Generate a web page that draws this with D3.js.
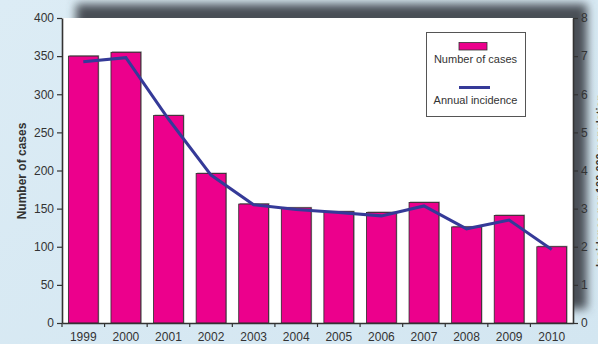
<!DOCTYPE html>
<html>
<head>
<meta charset="utf-8">
<script src="https://cdn.jsdelivr.net/npm/d3@7"></script>
<style>
  html, body { margin: 0; padding: 0; background: #d8e9f3; overflow: hidden; }
  svg { display: block; font-family: "Liberation Sans", Arial, sans-serif; }
</style>
</head>
<body>
<svg id="chart" width="598" height="344"></svg>
<script>
// Cases per year and annual incidence (per 100 000)
const years = ["1999","2000","2001","2002","2003","2004","2005","2006","2007","2008","2009","2010"];
const cases = [350, 355, 272, 196, 156, 151, 146, 145, 158, 126, 141, 100];
const incidence = [6.85, 6.96, 5.35, 3.88, 3.10, 2.98, 2.90, 2.81, 3.07, 2.47, 2.70, 1.93];
const casesTicks = [0, 50, 100, 150, 200, 250, 300, 350, 400];
const incidenceTicks = [0, 1, 2, 3, 4, 5, 6, 7, 8];

const svg = d3.select("#chart");
const W = 598, H = 344;
const plotL = 62, plotR = 573, plotT = 18, plotB = 323;

const defs = svg.append("defs");
const bg = defs.append("linearGradient").attr("id", "bg").attr("x1", 0).attr("y1", 0).attr("x2", 1).attr("y2", 1);
bg.append("stop").attr("offset", "0%").attr("stop-color", "#dcecf5");
bg.append("stop").attr("offset", "100%").attr("stop-color", "#d3e6f1");
defs.append("filter").attr("id", "blur").attr("x", "-20%").attr("y", "-20%").attr("width", "140%").attr("height", "140%")
  .append("feGaussianBlur").attr("stdDeviation", 5);

svg.append("rect").attr("width", W).attr("height", H).attr("fill", "url(#bg)");

// Drop shadow behind the plotting area
svg.append("rect")
  .attr("x", plotL + 14).attr("y", plotT - 14)
  .attr("width", plotR - plotL).attr("height", plotB - plotT)
  .attr("fill", "#4a4f57").attr("filter", "url(#blur)");
svg.append("rect")
  .attr("x", plotL).attr("y", plotT)
  .attr("width", plotR - plotL).attr("height", plotB - plotT)
  .attr("fill", "#ffffff");

const x = d3.scaleBand().domain(years).range([plotL, plotR]).paddingInner(0.3).paddingOuter(0.15);
const yL = d3.scaleLinear().domain([0, 400]).range([plotB, plotT]);
const yR = d3.scaleLinear().domain([0, 8]).range([plotB, plotT]);

// Bars
svg.append("g").selectAll("rect")
  .data(years).join("rect")
  .attr("x", d => x(d) + 1).attr("y", (d, i) => yL(cases[i]) - 1)
  .attr("width", x.bandwidth()).attr("height", (d, i) => plotB - yL(cases[i]) + 1)
  .attr("fill", "#9a9a9a");
svg.append("g").selectAll("rect")
  .data(years).join("rect")
  .attr("x", d => x(d)).attr("y", (d, i) => yL(cases[i]))
  .attr("width", x.bandwidth()).attr("height", (d, i) => plotB - yL(cases[i]))
  .attr("fill", "#ec008c").attr("stroke", "#2a2a2a").attr("stroke-width", 0.8);

// Incidence line
const line = d3.line()
  .x((d, i) => x(years[i]) + x.bandwidth() / 2)
  .y(d => yR(d));
svg.append("path").datum(incidence)
  .attr("d", line).attr("fill", "none")
  .attr("stroke", "#353a98").attr("stroke-width", 3).attr("stroke-linejoin", "miter");

// Axes
const axisColor = "#333";
const textColor = "#333";

const gL = svg.append("g").attr("transform", `translate(${plotL},0)`)
  .call(d3.axisLeft(yL).tickValues(casesTicks).tickSize(5).tickPadding(3).tickSizeOuter(0));
const gR = svg.append("g").attr("transform", `translate(${plotR},0)`)
  .call(d3.axisRight(yR).tickValues(incidenceTicks).tickSize(5).tickPadding(3).tickSizeOuter(0));
const gB = svg.append("g").attr("transform", `translate(0,${plotB})`)
  .call(d3.axisBottom(x).tickSize(0).tickPadding(9).tickSizeOuter(0));

// Category boundary ticks on the x axis
const bounds = d3.range(years.length).map(k => plotL + k * x.step());
svg.append("g").selectAll("line")
  .data(bounds).join("line")
  .attr("x1", d => d).attr("x2", d => d)
  .attr("y1", plotB).attr("y2", plotB + 4)
  .attr("stroke", axisColor).attr("stroke-width", 1.2);

[gL, gR, gB].forEach(g => {
  g.selectAll(".domain").attr("stroke", axisColor).attr("stroke-width", 1.6);
  g.selectAll(".tick line").attr("stroke", axisColor).attr("stroke-width", 1.2);
  g.selectAll(".tick text").attr("fill", textColor).attr("font-size", 12)
    .attr("font-family", "'Liberation Sans', Arial, sans-serif");
});

// Axis titles
svg.append("text")
  .attr("transform", `translate(26,171) rotate(-90)`)
  .attr("text-anchor", "middle").attr("font-size", 12).attr("font-weight", "bold")
  .attr("fill", "#333").text("Number of cases");
svg.append("text")
  .attr("transform", `translate(604,${(plotT + plotB) / 2 + 10}) rotate(-90)`)
  .attr("text-anchor", "middle").attr("font-size", 11).attr("font-weight", "bold")
  .attr("fill", "#333").text("Incidence per 100 000 population");

// Legend
const lg = svg.append("g");
lg.append("rect").attr("x", 426.5).attr("y", 32.5).attr("width", 99).attr("height", 84)
  .attr("fill", "#fff").attr("stroke", "#555").attr("stroke-width", 1);
lg.append("rect").attr("x", 459).attr("y", 42.5).attr("width", 28).attr("height", 7.5)
  .attr("fill", "#ec008c").attr("stroke", "#333").attr("stroke-width", 0.8);
lg.append("text").attr("x", 475.5).attr("y", 63).attr("text-anchor", "middle")
  .attr("font-size", 11).attr("fill", "#333").text("Number of cases");
lg.append("line").attr("x1", 459).attr("x2", 490).attr("y1", 87.5).attr("y2", 87.5)
  .attr("stroke", "#353a98").attr("stroke-width", 3);
lg.append("text").attr("x", 475.5).attr("y", 104).attr("text-anchor", "middle")
  .attr("font-size", 11).attr("fill", "#333").text("Annual incidence");
</script>
</body>
</html>
